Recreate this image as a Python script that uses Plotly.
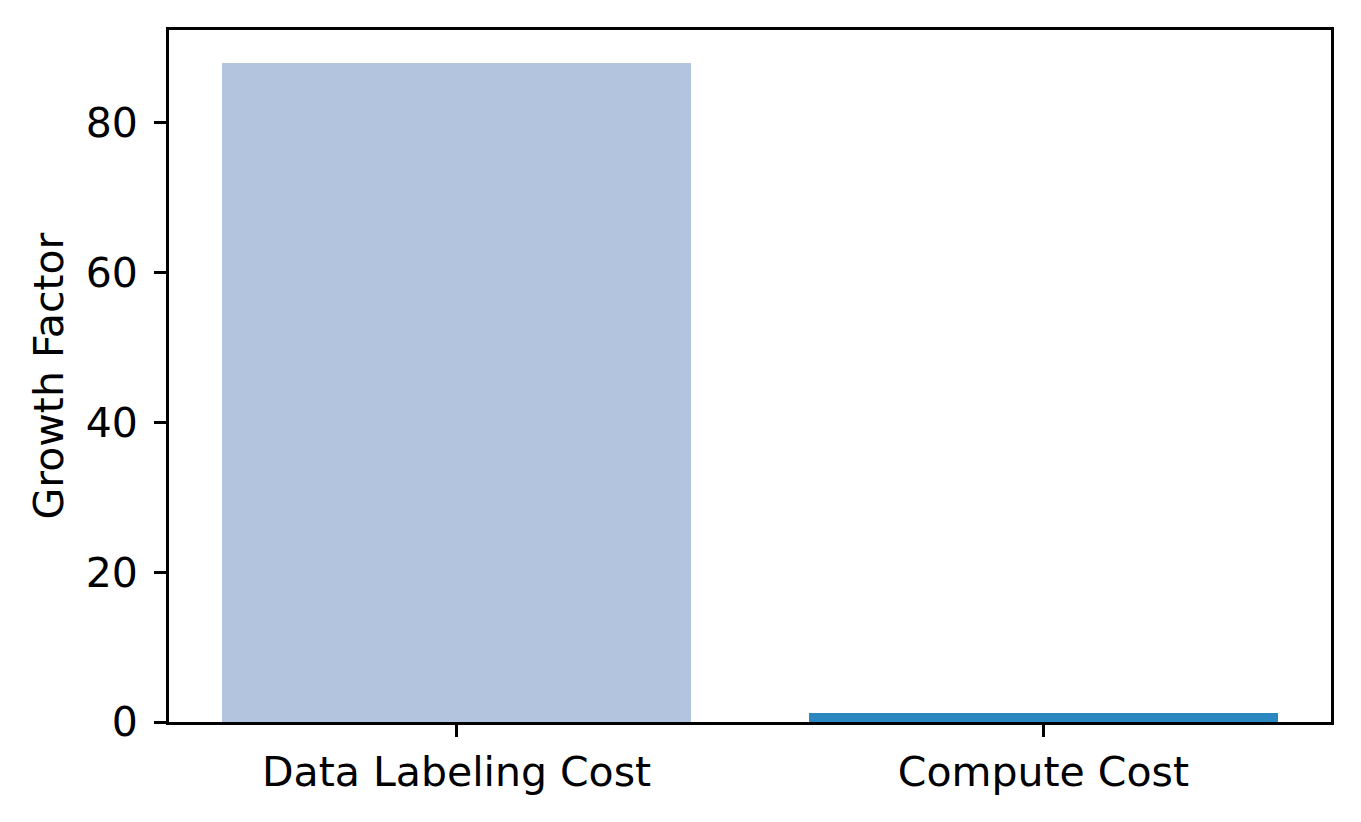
import plotly.graph_objects as go

categories = ["Data Labeling Cost", "Compute Cost"]
growth_factor = [88.0, 1.25]
bar_colors = ["#b3c4df", "#2a87bf"]
y_ticks = [0, 20, 40, 60, 80]

fig = go.Figure()
fig.add_trace(go.Bar(
    x=categories,
    y=growth_factor,
    width=0.8,
    marker=dict(color=bar_colors, line=dict(width=0)),
))

font = dict(family="DejaVu Sans", size=41, color="black")

fig.update_layout(
    width=1361, height=822,
    margin=dict(l=169, r=30, t=30, b=100, autoexpand=False),
    paper_bgcolor="white", plot_bgcolor="white",
    font=font,
    showlegend=False,
    bargap=0,
)
fig.update_xaxes(
    range=[-0.49, 1.49],
    showline=True, linecolor="black", linewidth=2.7, mirror=True,
    ticks="outside", ticklen=12, tickwidth=2.7, tickcolor="black",
    showgrid=False, zeroline=False,
    tickfont=font, ticklabelstandoff=0,
)
fig.update_yaxes(
    range=[0, 92.4],
    tickvals=y_ticks,
    showline=True, linecolor="black", linewidth=2.7, mirror=True,
    ticks="outside", ticklen=12, tickwidth=2.7, tickcolor="black",
    showgrid=False, zeroline=False,
    tickfont=font, ticklabelstandoff=8,
    title=dict(text="Growth Factor", font=font, standoff=10),
)

fig.write_html("out.html", config={"displayModeBar": False},
               post_script="document.body.style.margin='0';")
